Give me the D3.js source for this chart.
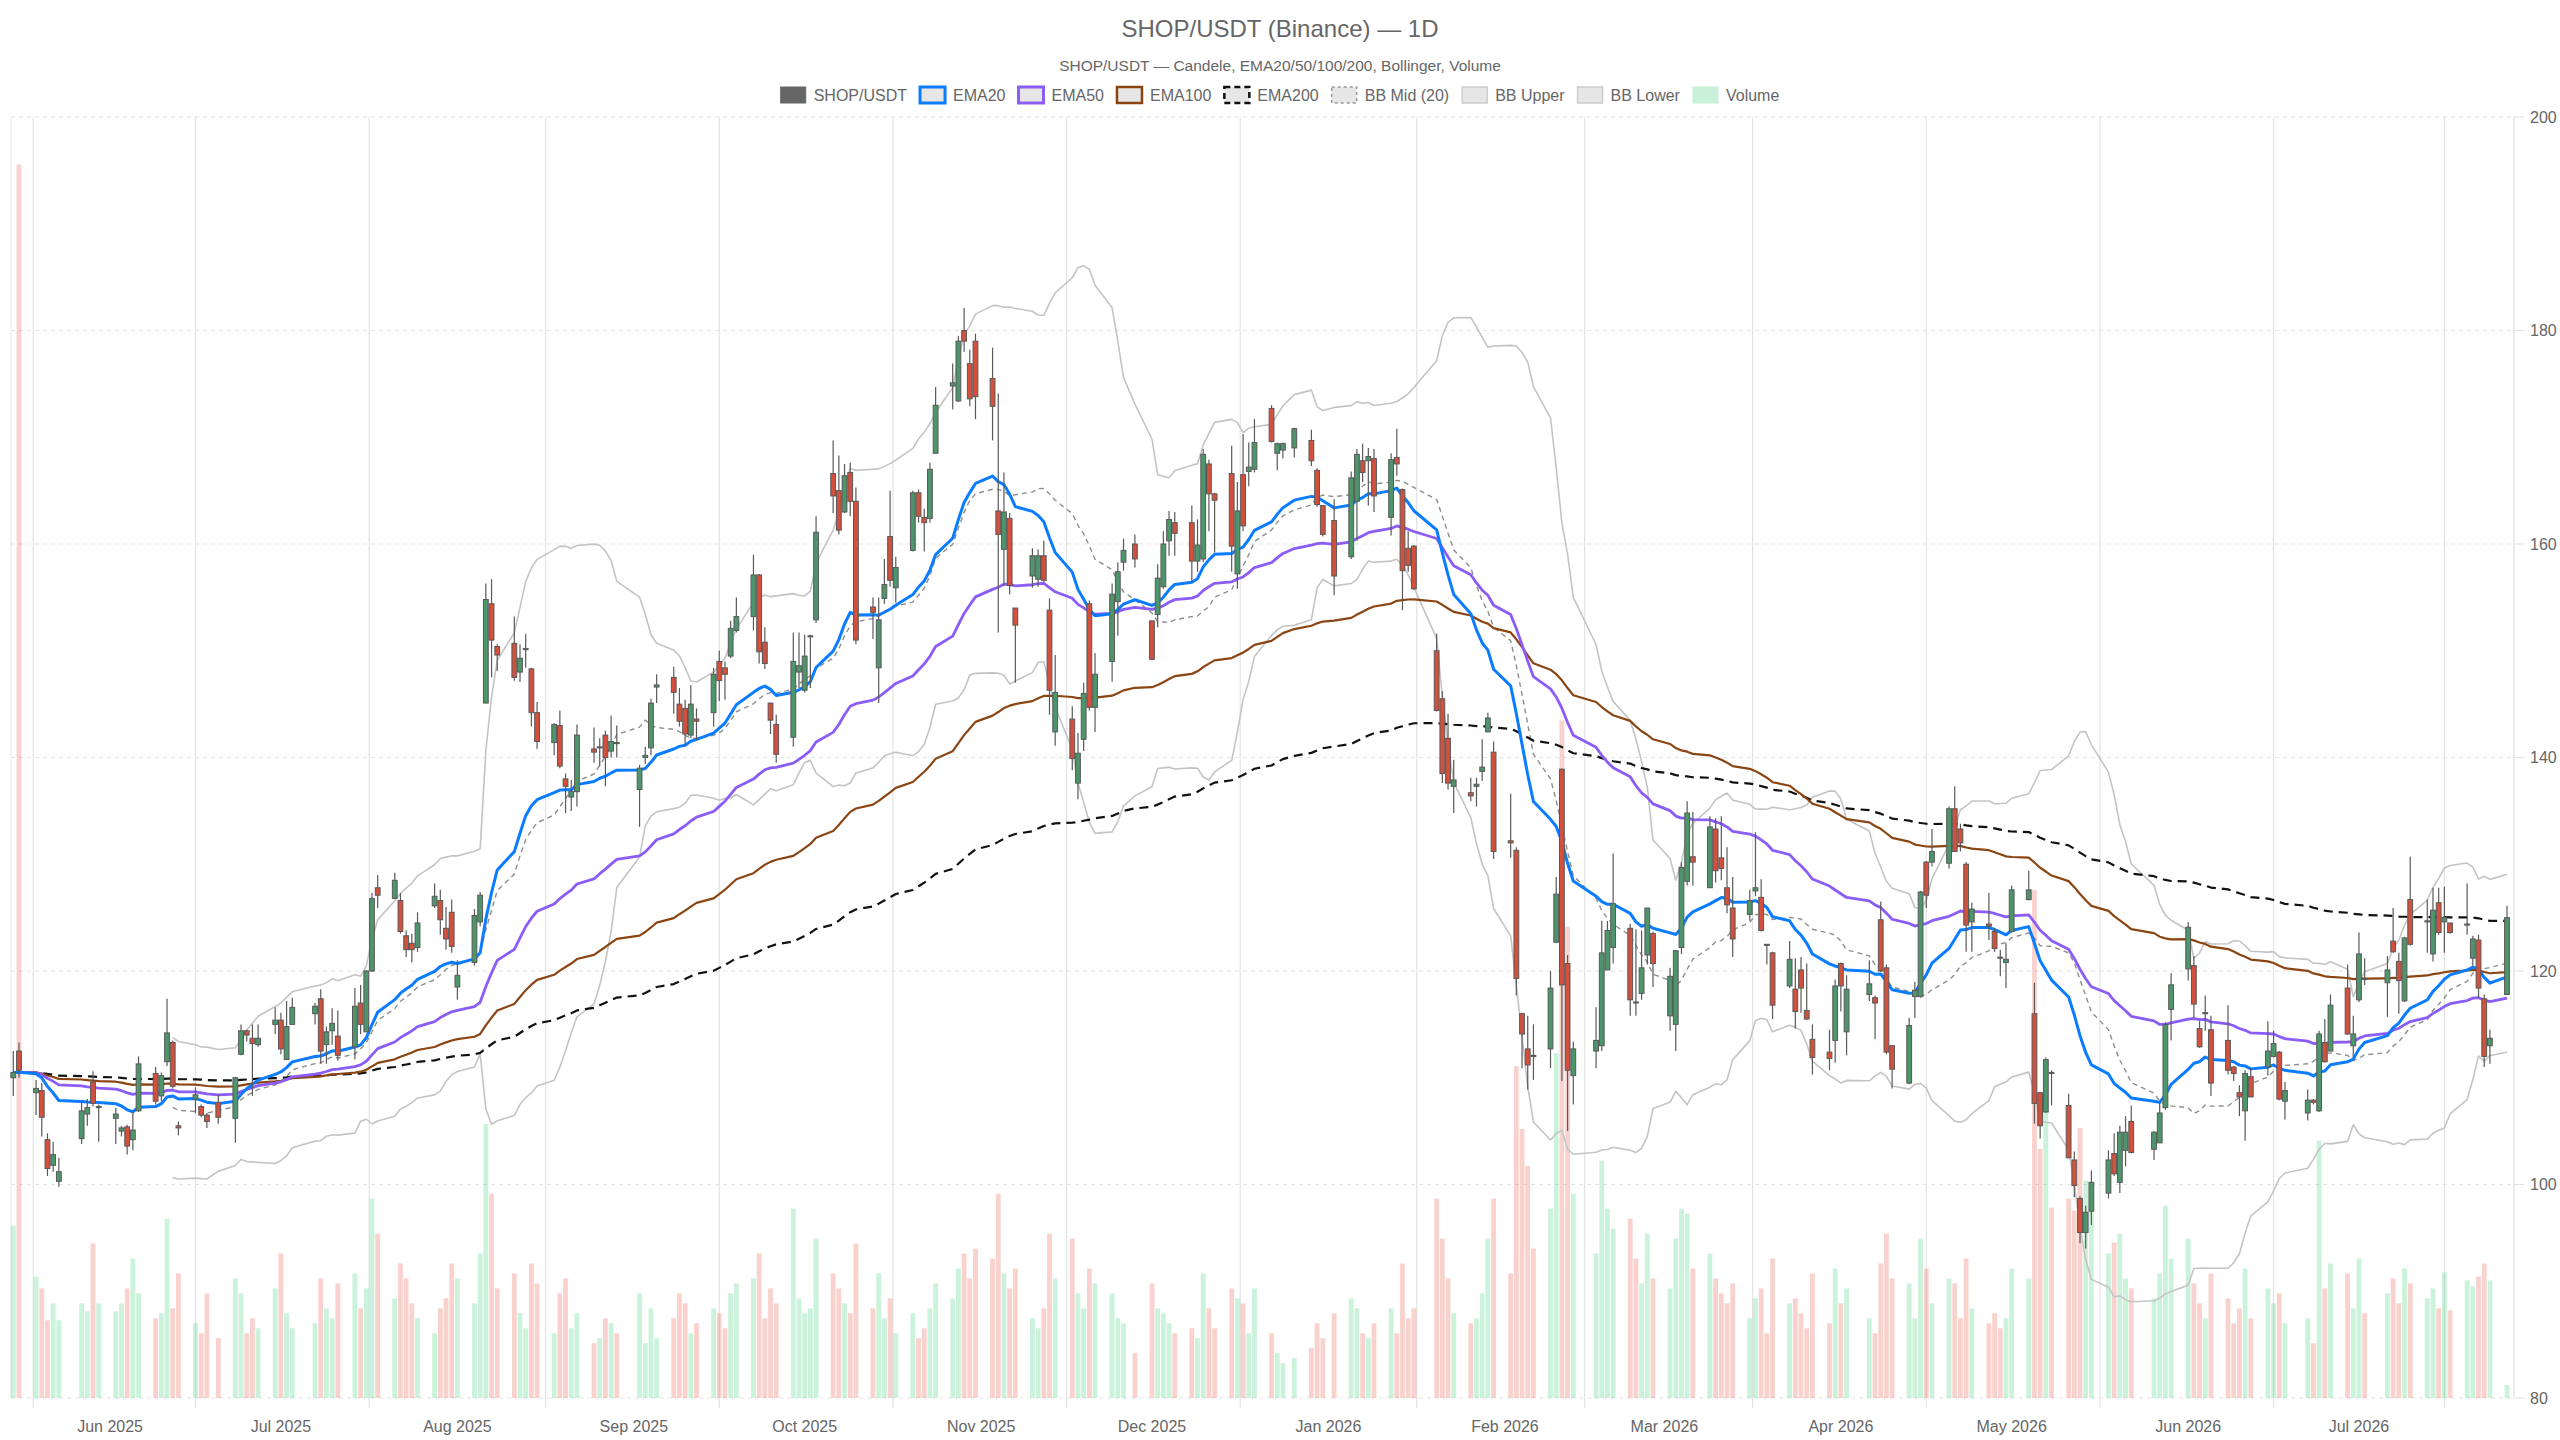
<!DOCTYPE html>
<html><head><meta charset="utf-8">
<script src="https://cdn.jsdelivr.net/npm/d3@7"></script>
<style>body{margin:0;background:#fff}svg{display:block}text{font-family:"Liberation Sans",Arial,Helvetica,sans-serif}</style>
</head><body>
<svg id="chart" width="2560" height="1440"></svg>
<script>
// ---------- DATA ----------
const firstDay = "2025-05-15", lastDay = "2026-07-27";
const holidays = ["2025-05-26","2025-06-19","2025-07-04","2025-09-01","2025-11-27","2025-12-25",
  "2026-01-01","2026-01-19","2026-02-16","2026-04-03","2026-05-25","2026-06-19","2026-07-03"];

const open = [110.0,112.5,
108.6,108.8,104.2,101.8,100.3, 104.3,106.6,109.6,107.2, 106.2,105.0,105.4,104.2,106.9,
110.4,108.3,111.5,113.3,105.5, 108.0,107.3,106.5,107.7, 106.2,112.2,114.4,113.7,113.1,
115.0,115.4,111.7,115.0, 116.0,117.4,113.1,114.4,113.9, 112.9,117.0,114.3,120.0,127.8,
126.8,126.6,123.3,122.6,122.2, 126.1,126.6,124.0,125.5,118.5, 120.8,124.6,145.1,154.4,150.4,
150.7,148.0,150.1,148.3,144.2, 141.4,143.0,138.0,136.3,136.8, 140.8,140.9,142.1,140.6,141.4,
137.0,140.0,140.9,146.6, 147.5,145.0,144.6,142.1,143.6, 144.2,149.0,148.4,149.5,151.9,
153.2,157.1,150.8,145.1,143.1, 141.9,148.0,146.3,151.3,152.9, 166.6,165.0,163.0,166.7,164.0,
154.1,148.4,154.9,160.7,155.9, 159.4,164.8,162.5,162.4,168.5, 174.8,173.4,180.0,176.9,179.0,
175.5,163.1,159.5,162.4,154.0, 157.0,156.7,158.9,153.8,142.4, 143.6,137.6,141.7,154.4,144.7,
149.0,154.6,158.3,160.0, 152.8,153.4,156.0,160.3,162.0, 162.0,158.4,158.6,167.5,164.7,
166.6,157.2,166.5,166.8,167.0, 172.7,168.5,168.8,169.0, 169.7,166.9,163.6,162.2,
158.8,164.0,167.8,167.8,168.0, 162.5,168.1,165.1,159.6,159.8, 150.0,145.5,141.8,137.3,
136.7,137.3,138.7,142.4,140.5, 132.2,131.3,116.0,112.7,112.1, 112.7,122.7,138.9,120.7,110.2,
112.5,113.0,120.1,122.2, 124.0,117.1,117.9,121.5,123.5, 115.8,115.0,122.2,128.4,130.7,
127.8,133.3,130.6,127.8,125.9, 125.3,127.5,126.9,122.5,121.7, 118.6,118.3,120.1,116.3,113.6,
112.4,113.5,120.7,114.3, 117.8,117.5,124.8,120.3,113.0, 109.5,117.6,117.6,130.2,130.2,
130.1,135.2,133.3,130.0,124.6, 124.4,123.7,121.3,120.8,123.7, 126.7,116.0,108.6,106.8,110.5,
107.4,102.3,98.7,95.5,97.5, 99.2,102.9,100.2,103.2,105.9, 103.3,103.9,107.2,116.4,
120.2,120.5,114.6,116.0,114.5, 113.5,111.0,108.6,106.9,110.1, 111.0,112.0,112.4,107.8,
106.7,107.9,106.9,113.3,112.5, 118.4,113.0,117.3,119.3, 118.9,122.8,120.9,117.2,126.7,
124.6,121.6,126.4,124.6,124.5, 124.3,121.2,122.9,117.4,113.0, 117.8];

const high = [112.5,113.3,
109.8,109.5,104.8,104.0,102.5, 107.8,108.0,110.6,107.5, 107.2,105.5,105.6,106.8,112.0,
111.0,110.5,117.4,113.5,105.9, 109.1,107.5,106.7,108.4, 110.1,115.0,114.5,115.0,115.0,
116.6,116.1,117.2,117.5, 117.0,118.3,114.8,116.5,116.3, 118.4,118.7,120.1,127.3,129.0,
129.2,127.3,123.8,123.5,125.5, 128.2,127.6,126.0,126.7,121.0, 125.8,127.4,156.3,156.7,150.6,
153.2,150.6,151.6,148.4,145.2, 143.2,144.4,138.5,137.9,143.1, 142.8,141.8,142.5,143.9,143.0,
139.3,141.0,145.5,147.8, 148.5,146.5,145.4,146.8,144.6, 148.4,150.0,149.0,152.8,155.0,
159.0,157.2,152.2,145.1,144.0, 151.7,151.7,151.5,151.5,162.6, 169.7,168.3,167.5,167.6,165.3,
155.0,155.0,158.6,165.0,158.8, 165.0,165.1,163.3,167.6,174.7, 176.9,179.5,182.1,178.2,179.7,
178.4,174.1,166.7,162.9,154.0, 159.6,159.5,160.3,154.9,149.6, 144.8,142.3,147.0,154.7,149.8,
156.3,158.3,160.5,160.9, 152.8,158.1,161.2,163.1,163.0, 163.6,162.3,168.9,167.9,164.8,
169.2,165.8,170.3,169.5,171.7, 173.0,169.5,169.5,170.9, 170.7,167.1,163.6,164.2,
166.8,168.9,169.4,169.0,168.9, 168.5,170.8,165.2,161.2,159.9, 151.6,146.2,144.1,139.8,
138.1,138.1,141.7,144.2,141.5, 136.6,131.6,116.1,115.8,115.0, 120.0,128.8,139.0,121.5,113.4,
116.6,124.7,124.7,131.0, 124.4,123.9,123.8,125.9,123.7, 120.3,121.9,130.2,135.9,134.9,
134.5,134.3,134.5,131.6,128.8, 127.6,133.0,128.6,122.5,121.8, 122.8,121.2,121.3,120.7,115.0,
114.5,119.2,120.8,119.6, 121.0,117.7,126.5,120.6,113.0, 115.6,119.0,127.5,130.3,133.3,
135.4,137.3,133.8,130.2,126.4, 127.3,124.0,122.0,122.6,128.0, 129.4,118.9,108.7,111.9,110.7,
108.5,103.1,98.9,98.0,101.3, 103.2,104.8,105.5,106.4,107.4, 105.0,107.7,115.2,119.8,
124.6,121.4,115.3,117.7,115.8, 116.8,111.1,109.3,110.7,110.9, 115.3,114.4,112.5,109.6,
108.9,108.0,114.4,115.5,117.8, 120.6,115.8,123.6,121.2, 121.4,125.9,121.7,123.2,130.7,
126.7,127.8,127.8,127.9,124.5, 128.2,123.3,123.4,117.8,114.5, 126.1];

const low = [108.3,110.0,
106.5,104.5,100.8,101.2,99.8, 103.8,105.5,107.3,104.0, 103.8,104.5,102.8,103.2,106.8,
107.5,107.8,111.1,109.0,104.6, 106.7,106.3,105.3,105.7, 103.9,112.1,113.4,108.3,112.9,
114.1,112.2,111.7,115.0, 115.0,111.3,111.3,113.1,111.6, 111.7,114.1,114.3,119.9,125.9,
126.8,123.5,121.3,120.8,121.8, 125.9,123.4,122.0,121.7,117.3, 120.5,124.2,145.1,147.5,148.1,
147.2,147.1,148.4,142.9,140.8, 140.2,139.0,134.8,135.0,135.4, 139.5,139.2,137.3,140.0,140.0,
133.5,139.4,140.2,145.1, 144.1,142.9,141.1,141.8,141.6, 142.9,145.3,145.4,149.3,151.7,
151.9,148.8,148.3,142.2,139.5, 141.0,146.5,146.1,146.5,152.6, 162.9,160.9,162.9,162.6,150.6,
151.1,145.1,154.4,156.0,154.5, 159.3,162.0,159.3,162.0,168.5, 172.6,173.3,178.0,172.9,171.7,
169.7,151.7,156.1,155.3,147.0, 155.9,156.0,156.4,144.0,141.1, 138.8,136.1,140.6,144.4,142.4,
147.1,151.4,157.5,157.8, 149.1,152.2,155.8,158.9,158.9, 156.4,157.4,158.3,161.2,159.2,
157.4,155.8,161.2,165.4,166.7, 169.5,166.9,168.0,168.1, 167.3,163.5,160.7,155.2,
158.6,160.3,165.8,163.6,163.0, 160.8,166.4,153.8,157.4,155.7, 144.3,137.6,137.0,134.8,
135.9,135.4,137.8,142.4,130.5, 130.6,117.7,110.9,108.9,109.8, 110.9,122.6,109.7,105.0,107.5,
110.9,112.5,120.1,120.7, 115.8,115.8,117.3,120.6,118.5, 114.4,112.5,121.6,128.0,128.0,
127.8,128.3,128.5,125.4,121.3, 124.7,127.0,123.7,120.6,115.5, 118.4,114.6,116.1,115.4,110.3,
110.7,111.4,116.2,112.1, 117.2,113.6,119.9,112.2,109.0, 109.4,115.6,117.5,125.9,129.8,
129.6,131.2,131.2,121.8,121.8, 122.9,121.8,119.5,118.4,123.6, 126.6,105.7,104.3,106.7,107.4,
102.5,98.8,94.5,94.0,96.2, 98.7,100.8,99.2,101.7,102.9, 102.3,103.9,107.0,113.5,
119.1,115.6,112.8,114.4,108.3, 110.3,109.7,106.4,104.1,108.2, 110.2,111.9,107.9,106.1,
106.0,107.5,106.8,111.4,112.5, 114.0,111.9,117.1,118.7, 115.7,121.7,116.0,117.1,122.4,
121.7,120.9,123.4,121.7,123.5, 123.4,120.5,117.5,111.0,111.3, 117.8];

const close = [110.5,110.7,
109.0,106.3,101.5,102.8,101.2, 106.9,107.2,107.6,107.3, 106.6,105.3,103.6,105.1,111.3,
107.8,110.2,114.2,109.2,105.3, 108.4,106.5,105.9,106.3, 110.0,114.4,114.0,113.2,113.7,
115.4,112.7,114.8,116.6, 116.7,112.5,114.3,115.1,112.1, 116.7,115.0,120.0,126.8,127.1,
128.5,123.7,122.0,122.0,124.5, 127.0,124.8,123.0,122.3,119.6, 125.2,127.1,154.8,151.0,149.6,
147.5,149.3,150.2,144.2,141.5, 143.1,139.2,137.3,136.8,142.1, 140.5,141.0,140.0,141.5,141.3,
139.0,140.2,145.1,146.8, 146.1,143.4,142.2,145.0,143.4, 147.8,147.2,147.8,152.1,153.2,
157.1,149.9,148.8,143.5,140.3, 149.0,148.6,149.5,151.4,161.1, 164.5,161.3,166.4,164.0,151.0,
153.6,152.9,156.2,156.6,157.8, 164.8,162.6,162.0,167.0,173.0, 175.1,179.0,179.0,173.6,173.8,
172.9,160.9,163.0,156.1,152.4, 158.9,158.9,156.6,146.3,146.1, 139.9,140.4,146.0,144.7,147.8,
155.3,157.4,159.4,158.6, 149.2,156.8,160.0,162.3,161.0, 158.4,159.9,168.4,164.7,164.1,
159.8,163.1,161.7,167.2,169.5, 169.6,169.4,169.4,170.8, 167.8,163.7,160.9,157.0,
166.2,168.4,166.7,168.2,164.5, 167.9,167.5,157.5,158.0,155.8, 144.4,138.5,137.6,137.9,
136.4,137.5,139.1,143.7,131.2, 132.0,119.3,114.1,111.2,112.0, 118.4,127.2,118.7,110.7,112.7,
113.5,121.7,123.8,126.3, 117.3,117.0,120.3,125.9,120.7, 119.5,121.9,129.7,134.8,130.2,
133.5,129.4,129.6,126.2,123.0, 126.6,127.8,123.8,122.4,116.8, 121.1,116.2,118.4,115.5,111.9,
111.8,118.6,118.6,118.3, 118.8,117.0,120.0,112.4,110.8, 114.9,118.2,127.4,127.1,131.2,
135.2,131.2,132.0,124.3,125.8, 124.2,122.1,121.2,121.1,127.6, 127.6,107.6,105.5,111.7,110.4,
102.5,99.9,95.5,97.4,100.2, 102.3,101.0,104.9,104.9,103.0, 104.9,106.7,115.0,118.7,
124.1,116.9,112.9,116.1,109.5, 110.7,110.4,108.2,110.4,108.2, 112.5,113.2,108.0,108.8,
107.9,107.7,114.1,111.5,116.8, 114.1,114.1,121.6,119.2, 120.1,121.8,119.1,123.1,122.5,
124.7,125.7,123.6,125.0,123.6, 124.4,123.0,118.4,112.0,113.7, 125.0];

const volume = [17.3,123.8,
12.2,11.0,7.8,9.5,7.8, 9.5,8.7,15.5,9.5, 8.7,9.5,11.0,14.0,10.5,
8.0,8.5,18.0,9.0,12.5, 7.5,6.5,10.5,6.0, 12.0,10.5,6.5,8.0,7.0,
11.0,14.5,8.5,7.0, 7.5,12.0,9.0,8.0,11.5, 12.5,9.0,11.0,20.0,16.5,
10.0,13.5,12.0,9.5,8.0, 6.5,9.0,10.0,13.5,12.0, 9.5,14.5,27.5,20.5,11.0,
12.5,8.5,7.0,13.5,11.5, 6.5,10.5,12.0,7.0,8.5, 5.5,6.0,8.0,7.5,6.5,
10.5,5.5,9.0,6.0, 8.0,10.5,9.5,6.5,7.5, 9.0,8.5,7.0,10.5,11.5,
12.0,14.5,8.0,11.0,9.5, 19.0,10.0,8.5,9.0,16.0, 12.5,11.0,9.5,8.5,15.5,
9.0,12.5,8.0,10.0,6.5, 8.5,6.0,7.0,9.0,11.5, 10.0,13.0,14.5,12.0,15.0,
14.0,20.5,12.5,11.0,13.0, 8.0,7.0,9.0,16.5,12.0, 16.0,10.5,9.0,13.0,11.5,
10.5,8.0,7.5,4.5, 11.5,9.0,8.5,7.5,6.5, 7.0,6.0,12.5,9.0,7.0,
11.0,10.0,9.5,6.5,11.0, 6.5,4.5,3.5,4.0, 5.0,7.5,6.0,8.5,
10.0,9.0,6.5,6.0,7.5, 9.0,6.5,13.5,8.0,9.0, 20.0,16.0,12.0,8.5,
7.5,8.0,10.5,16.0,20.0, 12.5,33.3,27.0,23.3,15.0, 19.0,34.6,68.0,47.3,20.5,
14.5,23.8,19.0,17.0, 18.0,14.0,11.5,16.5,12.0, 11.0,16.0,19.0,18.5,13.0,
14.5,12.0,10.5,9.5,11.5, 8.0,10.0,11.0,6.5,14.0, 9.5,10.0,8.5,7.0,12.5,
7.5,13.0,9.5,11.0, 8.0,6.5,13.5,16.5,12.0, 11.5,8.0,16.0,13.0,9.5,
12.0,11.5,8.0,14.0,9.0, 7.5,8.5,7.0,8.0,13.0, 12.0,51.0,25.0,28.9,19.1,
20.0,18.8,27.1,21.8,20.5, 14.5,15.6,16.5,12.0,11.0, 10.0,12.5,19.3,14.0,
16.0,11.5,9.5,8.0,12.5, 10.0,7.5,9.0,13.0,8.0, 11.0,9.5,10.5,7.5,
8.0,5.5,25.8,11.0,13.5, 12.5,9.0,14.0,8.5, 10.5,12.0,9.5,13.0,11.5,
10.0,11.0,9.0,12.6,8.8, 11.8,11.2,12.2,13.5,11.8, 1.3];

const yTicks = [80,100,120,140,160,180,200];
const titleText = "SHOP/USDT (Binance) \u2014 1D";
const subtitleText = "SHOP/USDT \u2014 Candele, EMA20/50/100/200, Bollinger, Volume";

// ---------- DATES (NYSE trading calendar) ----------
const parse = d3.utcParse("%Y-%m-%d"), fmtD = d3.utcFormat("%Y-%m-%d");
const hol = new Set(holidays);
const dates = d3.utcDay.range(parse(firstDay), d3.utcDay.offset(parse(lastDay), 1))
  .filter(d => d.getUTCDay() !== 0 && d.getUTCDay() !== 6 && !hol.has(fmtD(d)));
const N = Math.min(dates.length, close.length);
const rows = d3.range(N).map(i => ({date: dates[i], o: open[i], h: high[i], l: low[i], c: close[i], v: volume[i]}));

// ---------- INDICATORS ----------
function ema(vals, n) { const k = 2 / (n + 1); let p; return vals.map((v, i) => (p = i === 0 ? v : v * k + p * (1 - k))); }
const closes = rows.map(r => r.c);
const ema20 = ema(closes, 20), ema50 = ema(closes, 50), ema100 = ema(closes, 100), ema200 = ema(closes, 200);
const bbMid = [], bbUp = [], bbLo = [];
closes.forEach((c, i) => {
  if (i < 19) { bbMid.push(null); bbUp.push(null); bbLo.push(null); return; }
  const w = closes.slice(i - 19, i + 1), m = d3.mean(w);
  const sd = Math.sqrt(d3.mean(w, v => (v - m) * (v - m)));
  bbMid.push(m); bbUp.push(m + 2 * sd); bbLo.push(m - 2 * sd);
});

// ---------- LAYOUT ----------
const svg = d3.select("#chart");
const plotL = 11, plotR = 2514, plotT = 117, plotB = 1398;
const x = d3.scaleUtc().domain([rows[0].date, rows[N - 1].date]).range([13.3, 2507]);
const y = d3.scaleLinear().domain([80, 200]).range([plotB, plotT]);
const yVol = d3.scaleLinear().domain([0, d3.max(rows, r => r.v) / 0.963]).range([plotB, plotT]);
const txt = "#666";

// grid: horizontal
svg.append("g").selectAll("line").data(yTicks).join("line")
  .attr("x1", plotL).attr("x2", plotR).attr("y1", d => y(d)).attr("y2", d => y(d))
  .attr("stroke", "#e3e3e3").attr("stroke-width", 1).attr("stroke-dasharray", "4,4");

// grid: vertical (offset between month ticks)
const months = d3.utcMonth.range(d3.utcMonth.ceil(rows[0].date), d3.utcMonth.offset(d3.utcMonth.floor(rows[N - 1].date), 1));
const mx = months.map(m => x(m));
const gridX = [mx[0] - 0.45 * (mx[1] - mx[0])];
for (let i = 1; i < mx.length; i++) gridX.push((mx[i] + mx[i - 1]) / 2);
gridX.push(mx[mx.length - 1] + (mx[mx.length - 1] - mx[mx.length - 2]) / 2);
svg.append("line").attr("x1", plotL).attr("x2", plotL).attr("y1", plotT).attr("y2", plotB).attr("stroke", "#e6e6e6");
svg.append("g").selectAll("line").data(gridX).join("line")
  .attr("x1", d => d).attr("x2", d => d).attr("y1", plotT).attr("y2", plotB + 10)
  .attr("stroke", "#e3e3e3").attr("stroke-width", 1.2);

// x labels
svg.append("g").selectAll("text").data(months).join("text")
  .attr("x", d => x(d)).attr("y", 1426).attr("text-anchor", "middle").attr("dominant-baseline", "central")
  .attr("font-size", 16).attr("fill", txt).text(d => d3.utcFormat("%b %Y")(d));

// right axis
svg.append("line").attr("x1", plotR).attr("x2", plotR).attr("y1", plotT).attr("y2", plotB).attr("stroke", "#e0e0e0").attr("stroke-width", 1.2);
svg.append("g").selectAll("line").data(yTicks).join("line")
  .attr("x1", plotR).attr("x2", plotR + 10).attr("y1", d => y(d)).attr("y2", d => y(d)).attr("stroke", "#e0e0e0");
svg.append("g").selectAll("text").data(yTicks).join("text")
  .attr("x", plotR + 16).attr("y", d => y(d)).attr("dominant-baseline", "central")
  .attr("font-size", 16).attr("fill", txt).text(d => d);

// volume
const bw = 4.8;
svg.append("g").selectAll("rect").data(rows).join("rect")
  .attr("x", d => x(d.date) - bw / 2).attr("width", bw)
  .attr("y", d => yVol(d.v)).attr("height", d => plotB - yVol(d.v))
  .attr("fill", d => d.c >= d.o ? "rgba(46,204,113,0.25)" : "rgba(231,76,60,0.25)");

// lines
function drawLine(vals, color, width, dash) {
  const ln = d3.line().defined(d => d[1] != null).x(d => x(d[0])).y(d => y(d[1]));
  svg.append("path").datum(rows.map((r, i) => [r.date, vals[i]])).attr("d", ln)
    .attr("fill", "none").attr("stroke", color).attr("stroke-width", width)
    .attr("stroke-linejoin", "round").attr("stroke-dasharray", dash || null);
}
drawLine(bbLo, "#c4c4c4", 1.6);
drawLine(bbUp, "#c4c4c4", 1.6);
drawLine(bbMid, "#8e8e8e", 1.4, "5,4");
drawLine(ema200, "#111111", 2.2, "9,6");
drawLine(ema100, "#8b4513", 2.2);
drawLine(ema50, "#8b5cf6", 2.8);
drawLine(ema20, "#0a7cff", 3);

// candles
const cg = svg.append("g");
cg.selectAll("line").data(rows).join("line")
  .attr("x1", d => x(d.date)).attr("x2", d => x(d.date)).attr("y1", d => y(d.h)).attr("y2", d => y(d.l))
  .attr("stroke", "#595959").attr("stroke-width", 1.2);
cg.selectAll("rect").data(rows).join("rect")
  .attr("x", d => x(d.date) - bw / 2).attr("width", bw)
  .attr("y", d => y(Math.max(d.o, d.c))).attr("height", d => Math.max(1, Math.abs(y(d.o) - y(d.c))))
  .attr("fill", d => d.c >= d.o ? "#4d956a" : "#d2503c").attr("stroke", "#595959").attr("stroke-width", 1);

// title & subtitle
svg.append("text").attr("x", 1280).attr("y", 28).attr("text-anchor", "middle").attr("dominant-baseline", "central")
  .attr("font-size", 24).attr("fill", txt).text(titleText);
svg.append("text").attr("x", 1280).attr("y", 65).attr("text-anchor", "middle").attr("dominant-baseline", "central")
  .attr("font-size", 15.5).attr("fill", txt).text(subtitleText);

// legend
const legendItems = [
  {label: "SHOP/USDT", fill: "#666666", stroke: "#666666", sw: 1},
  {label: "EMA20", fill: "#e6e6e6", stroke: "#0a7cff", sw: 3},
  {label: "EMA50", fill: "#e6e6e6", stroke: "#8b5cf6", sw: 3},
  {label: "EMA100", fill: "#e6e6e6", stroke: "#8b4513", sw: 2.5},
  {label: "EMA200", fill: "#e6e6e6", stroke: "#111111", sw: 2.5, dash: "6,4"},
  {label: "BB Mid (20)", fill: "#e6e6e6", stroke: "#999999", sw: 1.5, dash: "3,3"},
  {label: "BB Upper", fill: "#e6e6e6", stroke: "#cccccc", sw: 1.5},
  {label: "BB Lower", fill: "#e6e6e6", stroke: "#cccccc", sw: 1.5},
  {label: "Volume", fill: "#c9f0d9", stroke: "#c9f0d9", sw: 1}
];
const lg = svg.append("g");
const boxW = 25, boxH = 16, gap = 8, spacing = 13, ly = 95;
let cx = 0;
const items = legendItems.map(it => {
  const g = lg.append("g");
  g.append("rect").attr("x", 0).attr("y", ly - boxH / 2).attr("width", boxW).attr("height", boxH)
    .attr("fill", it.fill).attr("stroke", it.stroke).attr("stroke-width", it.sw).attr("stroke-dasharray", it.dash || null);
  const t = g.append("text").attr("x", boxW + gap).attr("y", ly).attr("dominant-baseline", "central")
    .attr("font-size", 16).attr("fill", txt).text(it.label);
  const w = boxW + gap + t.node().getComputedTextLength();
  return {g, w};
});
const totalW = d3.sum(items, d => d.w) + spacing * (items.length - 1);
cx = 1280 - totalW / 2;
items.forEach(it => { it.g.attr("transform", `translate(${cx},0)`); cx += it.w + spacing; });
</script>
</body></html>
